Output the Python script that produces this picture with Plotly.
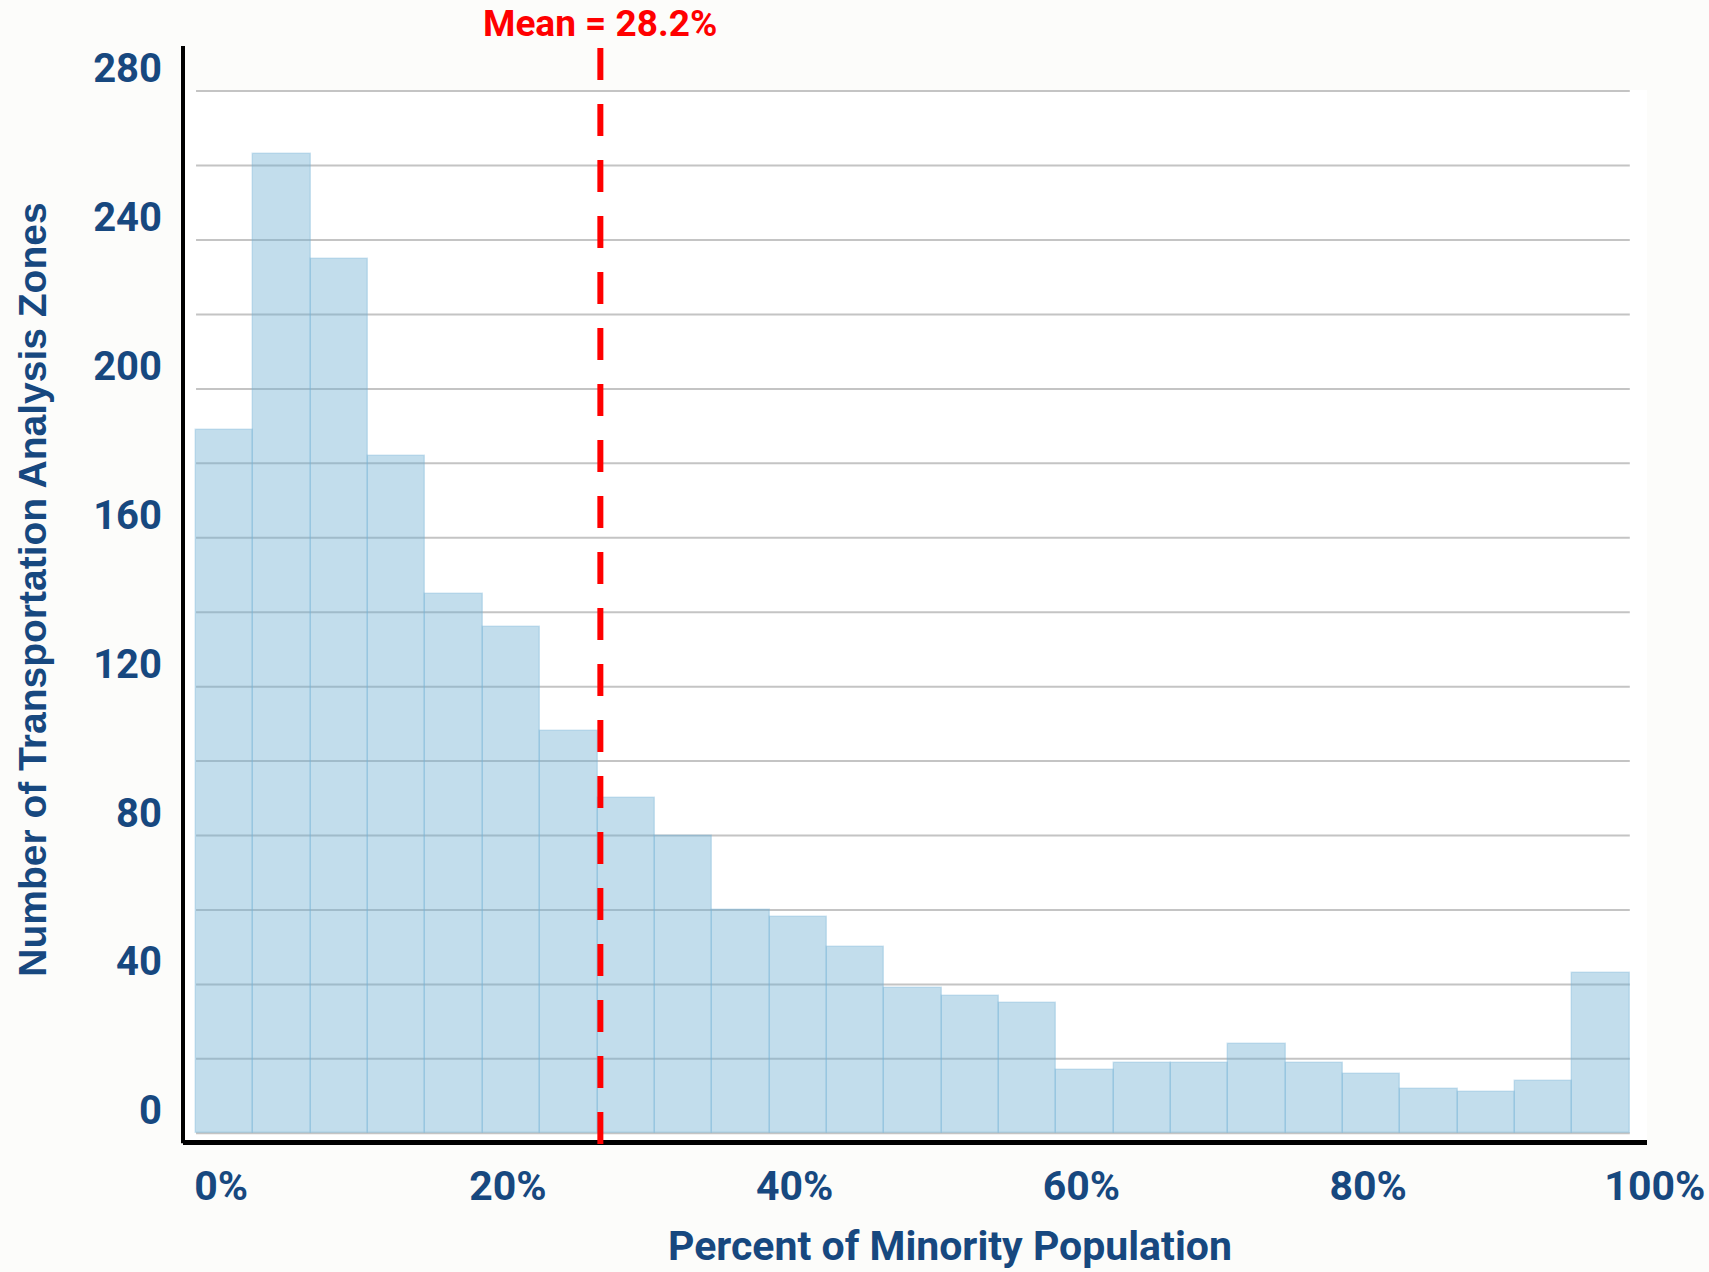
import plotly.graph_objects as go

# ---- data ----
bin_starts = [0, 4, 8, 12, 16, 20, 24, 28, 32, 36, 40, 44, 48, 52, 56, 60, 64, 68, 72, 76, 80, 84, 88, 92, 96]
bin_width = 4
counts = [189, 263, 235, 182, 145, 136, 108, 90, 80, 60, 58, 50, 39, 37, 35, 17, 19, 19, 24, 19, 16, 12, 11, 14, 43]
mean_value = 28.2
y_tick_vals = [0, 40, 80, 120, 160, 200, 240, 280]
y_grid_vals = [0, 20, 40, 60, 80, 100, 120, 140, 160, 180, 200, 220, 240, 260, 280]
x_tick_vals = [0, 20, 40, 60, 80, 100]
x_tick_text = ["0%", "20%", "40%", "60%", "80%", "100%"]

NAVY = "#17487f"
FONT = "Roboto, Liberation Sans, sans-serif"
TITLE_FONT = "Liberation Sans, Arial, sans-serif"

centers = [s + bin_width / 2 for s in bin_starts]
x_min = bin_starts[0]
x_max = bin_starts[-1] + bin_width

fig = go.Figure()
fig.add_trace(go.Bar(
    x=centers, y=counts, width=[bin_width] * len(counts),
    marker=dict(color="rgba(110,175,210,0.42)",
                line=dict(color="rgba(120,180,215,0.35)", width=1.5)),
    showlegend=False, hoverinfo="skip",
))

fig.update_layout(
    width=1709, height=1272,
    margin=dict(l=183, r=62, t=90, b=132),
    paper_bgcolor="#fcfcfa", plot_bgcolor="#ffffff",
    bargap=0,
    xaxis=dict(
        range=[-0.91, 101.2], tickvals=x_tick_vals, ticktext=x_tick_text,
        showgrid=False, zeroline=False, automargin=False,
        showline=True, linecolor="black", linewidth=5,
        ticks="", ticklabelstandoff=6, ticklabelshift=25, ticklabeloverflow="allow",
        tickfont=dict(family=FONT, size=41, color=NAVY, weight="bold"),
    ),
    yaxis=dict(
        range=[-1.8, 280.3], automargin=False,
        showgrid=False, zeroline=False, showline=False,
        tickmode="array", tickvals=y_tick_vals,
        ticks="", ticklabelstandoff=20, ticklabelshift=-23, ticklabeloverflow="allow",
        tickfont=dict(family=FONT, size=40, color=NAVY, weight="bold"),
    ),
)

# horizontal gridlines spanning the histogram's extent
for gv in y_grid_vals:
    fig.add_shape(type="line", xref="x", yref="y", x0=x_min, x1=x_max, y0=gv, y1=gv,
                  layer="below", line=dict(color="#c4c4c4", width=2))

# left axis line extending above the plot area
fig.add_shape(type="line", xref="paper", yref="paper", x0=0, x1=0, y0=-0.003, y1=1.042,
              line=dict(color="black", width=4))

# mean line
fig.add_shape(type="line", xref="x", yref="paper", x0=mean_value, x1=mean_value,
              y0=1.04, y1=-0.004, line=dict(color="#ff0000", width=6, dash="32px,24px"))

fig.add_annotation(x=mean_value, xref="x", y=1.063, yref="paper", yanchor="middle",
                   text=f"Mean = {mean_value}%", showarrow=False,
                   font=dict(family=FONT, size=37, color="#ff0000", weight="bold"))

fig.add_annotation(x=0.524, xref="paper", y=-0.101, yref="paper", yanchor="middle",
                   text="Percent of Minority Population", showarrow=False,
                   font=dict(family=FONT, size=41, color=NAVY, weight="bold"))

fig.add_annotation(x=-0.1025, xref="paper", y=0.524, yref="paper", xanchor="center", yanchor="middle",
                   text="Number of Transportation Analysis Zones", showarrow=False, textangle=-90,
                   font=dict(family=TITLE_FONT, size=39, color=NAVY, weight="bold"))

fig.write_html("out.html", config={"displayModeBar": False},
               post_script="document.body.style.margin='0';document.body.style.background='#fcfcfa';")
